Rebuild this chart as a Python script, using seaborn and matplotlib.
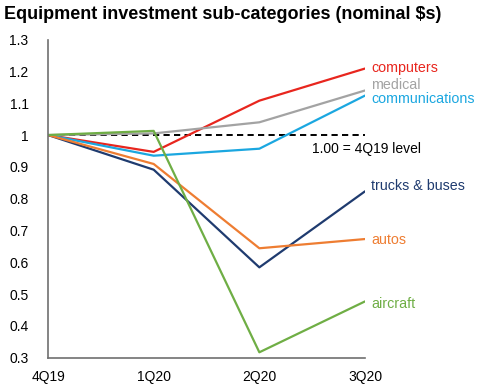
import numpy as np
import pandas as pd
import matplotlib
matplotlib.use("Agg")
import matplotlib.pyplot as plt
import seaborn as sns

quarters = ["4Q19", "1Q20", "2Q20", "3Q20"]
computers = [1.0, 0.947, 1.108, 1.209]
medical = [1.0, 1.005, 1.040, 1.140]
communications = [1.0, 0.935, 0.957, 1.124]
trucks_buses = [1.0, 0.891, 0.584, 0.823]
autos = [1.0, 0.909, 0.644, 0.673]
aircraft = [1.0, 1.013, 0.317, 0.477]

series_names = ["computers", "medical", "communications", "trucks & buses", "autos", "aircraft"]
series_values = [computers, medical, communications, trucks_buses, autos, aircraft]
colors = ["#e8261e", "#a3a3a3", "#1ba7e0", "#1f3b6f", "#ee7d32", "#6fae45"]
label_y = [1.211, 1.156, 1.113, 0.840, 0.670, 0.468]

yticks = [0.3, 0.4, 0.5, 0.6, 0.7, 0.8, 0.9, 1.0, 1.1, 1.2, 1.3]
ytick_labels = ["0.3", "0.4", "0.5", "0.6", "0.7", "0.8", "0.9", "1", "1.1", "1.2", "1.3"]

rows = []
for name, vals in zip(series_names, series_values):
    for i, (q, v) in enumerate(zip(quarters, vals)):
        rows.append({"series": name, "x": i, "quarter": q, "value": v})
df = pd.DataFrame(rows)

sns.set_theme(style="white")
plt.rcParams["font.family"] = ["Liberation Sans", "DejaVu Sans"]

fig = plt.figure(figsize=(4.87, 3.92), dpi=100)
ax = fig.add_axes([0.0986, 0.0875, 0.6509, 0.8115])

sns.lineplot(data=df, x="x", y="value", hue="series", hue_order=series_names,
             palette=colors, linewidth=1.6, legend=False, ax=ax)

ax.plot([0, 3], [1.0, 1.0], color="black", linestyle=(0, (3.2, 2.2)), linewidth=1.4, zorder=1)
ax.text(2.5, 0.957, "1.00 = 4Q19 level", fontsize=10, color="black", ha="left", va="center")

for name, c, ly in zip(series_names, colors, label_y):
    ax.text(3.06, ly, name, color=c, fontsize=10.3, ha="left", va="center", clip_on=False)

ax.set_xlim(0, 3)
ax.set_ylim(0.3, 1.3)
ax.set_xticks(range(len(quarters)))
ax.set_xticklabels(quarters)
ax.set_yticks(yticks)
ax.set_yticklabels(ytick_labels)
ax.set_xlabel("")
ax.set_ylabel("")
ax.tick_params(axis="y", length=0, pad=14, labelsize=10, colors="black")
ax.tick_params(axis="x", length=0, pad=9, labelsize=10, colors="black")
for s in ["top", "right"]:
    ax.spines[s].set_visible(False)
for s in ["left", "bottom"]:
    ax.spines[s].set_color("#707070")
    ax.spines[s].set_linewidth(1.2)

fig.text(0.008, 0.962, "Equipment investment sub-categories (nominal $s)",
         fontsize=13, fontweight="bold", ha="left", va="center", color="black")

fig.savefig("out.png", dpi=100)
